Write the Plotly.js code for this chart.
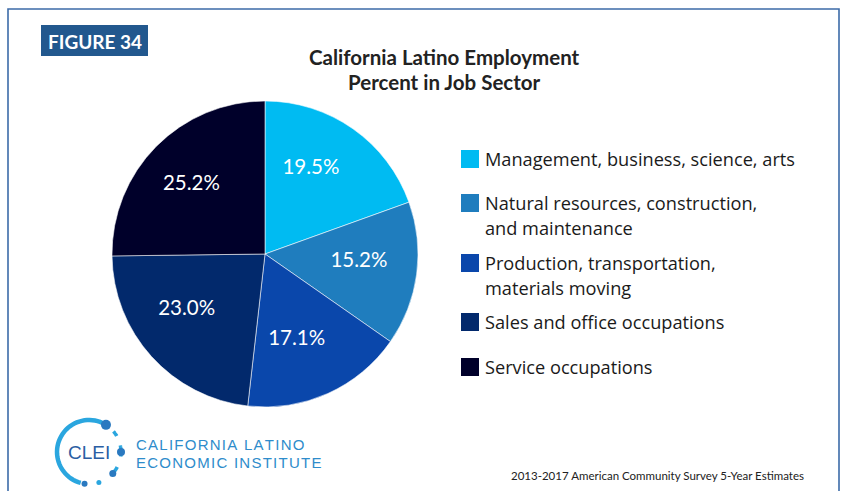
<!DOCTYPE html>
<html>
<head>
<meta charset="utf-8">
<script src="https://cdn.plot.ly/plotly-3.0.1.min.js"></script>
<style>
  html, body { margin: 0; padding: 0; background: #ffffff; }
  #chart { width: 843px; height: 491px; }
</style>
</head>
<body>
<div id="chart"></div>
<script>
// ---- data ----
const sectors = [
  "Management, business, science, arts",
  "Natural resources, construction,<br>and maintenance",
  "Production, transportation,<br>materials moving",
  "Sales and office occupations",
  "Service occupations"
];
const percents = [19.5, 15.2, 17.1, 23.0, 25.2];
const sectorColors = ["#00BBF2", "#1F7DBE", "#0A47AB", "#02296C", "#00002A"];
const titleLines = ["California Latino Employment", "Percent in Job Sector"];
const figureLabel = "FIGURE 34";
const sourceNote = "2013-2017 American Community Survey 5-Year Estimates";
const logoLines = ["CALIFORNIA LATINO", "ECONOMIC INSTITUTE"];

// ---- layout helpers (pixel -> paper) ----
const W = 843, H = 491;
const px = x => x / W;
const py = y => 1 - y / H;

const cx = 265, cy = 254, R = 153;
const lblDx = -10, lblDy = -9;   // label layer offset (px)

const slices = {
  type: "pie",
  labels: sectors,
  values: percents,
  sort: false,
  direction: "clockwise",
  rotation: 0,
  marker: { colors: sectorColors, line: { color: "rgba(255,255,255,0.7)", width: 0.8 } },
  textinfo: "none",
  hoverinfo: "label+value",
  showlegend: false,
  domain: { x: [px(cx - R), px(cx + R)], y: [py(cy + R), py(cy - R)] }
};

const labelsLayer = {
  type: "pie",
  labels: sectors,
  values: percents,
  sort: false,
  direction: "clockwise",
  rotation: 0,
  marker: { colors: sectorColors.map(() => "rgba(0,0,0,0)"), line: { width: 0 } },
  texttemplate: "%{value:.1f}%",
  textposition: "inside",
  insidetextorientation: "horizontal",
  textfont: { family: "Lato, sans-serif", size: 20.5, color: "#ffffff" },
  hoverinfo: "skip",
  showlegend: false,
  domain: { x: [px(cx - R + lblDx), px(cx + R + lblDx)], y: [py(cy + R + lblDy), py(cy - R + lblDy)] }
};

const shapes = [];
const annotations = [];

// frame
shapes.push({ type: "rect", xref: "paper", yref: "paper",
  x0: px(8), x1: px(839), y0: py(500), y1: py(9),
  line: { color: "#3C6BA8", width: 1.6 }, fillcolor: "rgba(0,0,0,0)" });

// figure label box
shapes.push({ type: "rect", xref: "paper", yref: "paper",
  x0: px(41), x1: px(148), y0: py(56), y1: py(25),
  line: { width: 0 }, fillcolor: "#22588E" });
annotations.push({ xref: "paper", yref: "paper", x: px(95), y: py(41),
  text: "<b>" + figureLabel + "</b>", showarrow: false, xanchor: "center", yanchor: "middle",
  font: { family: "Lato, sans-serif", size: 19, color: "#ffffff" } });

// title
titleLines.forEach((t, i) => {
  annotations.push({ xref: "paper", yref: "paper", x: px(445), y: py(57 + i * 25),
    text: "<b>" + t + "</b>", showarrow: false, xanchor: "center", yanchor: "middle",
    font: { family: "Lato, sans-serif", size: 20.5, color: "#222222" } });
});

// legend (built from the sector arrays)
const legendTops = [150, 194, 254, 313, 358];
sectors.forEach((name, i) => {
  const top = legendTops[i];
  shapes.push({ type: "rect", xref: "paper", yref: "paper",
    x0: px(461), x1: px(479), y0: py(top + 18), y1: py(top),
    line: { width: 0 }, fillcolor: sectorColors[i] });
  const lines = name.split("<br>");
  lines.forEach((ln, j) => {
    annotations.push({ xref: "paper", yref: "paper", x: px(483), y: py(top + 9 + j * 25),
      text: ln, showarrow: false, xanchor: "left", yanchor: "middle",
      font: { family: "Open Sans, sans-serif", size: 18.2, color: "#1a1a1a" } });
  });
});

// source note
annotations.push({ xref: "paper", yref: "paper", x: px(806), y: py(475),
  text: sourceNote, showarrow: false, xanchor: "right", yanchor: "middle",
  font: { family: "Lato, sans-serif", size: 11.5, color: "#222222" } });

// logo ring
const lcx = 89, lcy = 452, lr = 32;
function arcPath(a0, a1, r) {
  let d = "";
  const n = 40;
  for (let k = 0; k <= n; k++) {
    const a = (a0 + (a1 - a0) * k / n) * Math.PI / 180;
    const x = px(lcx + r * Math.cos(a));
    const y = py(lcy - r * Math.sin(a));
    d += (k === 0 ? "M" : "L") + x.toFixed(5) + "," + y.toFixed(5);
  }
  return d;
}
shapes.push({ type: "path", xref: "paper", yref: "paper", path: arcPath(65, 255, lr),
  line: { color: "#2AA6DF", width: 4.5 } });
[[-8, 12], [-38, -28], [30, 40]].forEach(seg => {
  shapes.push({ type: "path", xref: "paper", yref: "paper", path: arcPath(seg[0], seg[1], lr),
    line: { color: "#2AA6DF", width: 3.5 } });
});
const dots = [[58, 5, "#2A79C0"], [0, 4, "#2A79C0"], [-42, 3.5, "#2A79C0"], [-72, 2.5, "#2AA6DF"], [262, 3, "#2A79C0"]];
dots.forEach(d => {
  const a = d[0] * Math.PI / 180;
  const x = lcx + lr * Math.cos(a), y = lcy - lr * Math.sin(a);
  shapes.push({ type: "circle", xref: "paper", yref: "paper",
    x0: px(x - d[1]), x1: px(x + d[1]), y0: py(y + d[1]), y1: py(y - d[1]),
    line: { width: 0 }, fillcolor: d[2] });
});
annotations.push({ xref: "paper", yref: "paper", x: px(89), y: py(452),
  text: "CLEI", showarrow: false, xanchor: "center", yanchor: "middle",
  font: { family: "Liberation Sans, Arial, sans-serif", size: 19, color: "#2B5EA3" } });
logoLines.forEach((t, i) => {
  annotations.push({ xref: "paper", yref: "paper", x: px(134), y: py(444 + i * 18),
    text: t.split("").join("\u200A"), showarrow: false, xanchor: "left", yanchor: "middle",
    font: { family: "Liberation Sans, Arial, sans-serif", size: 15, color: "#2E8CCB" } });
});

const layout = {
  width: W, height: H,
  margin: { l: 0, r: 0, t: 0, b: 0 },
  paper_bgcolor: "#ffffff",
  plot_bgcolor: "#ffffff",
  showlegend: false,
  shapes: shapes,
  annotations: annotations
};

Plotly.newPlot("chart", [slices, labelsLayer], layout, { displayModeBar: false, staticPlot: true });
</script>
</body>
</html>
